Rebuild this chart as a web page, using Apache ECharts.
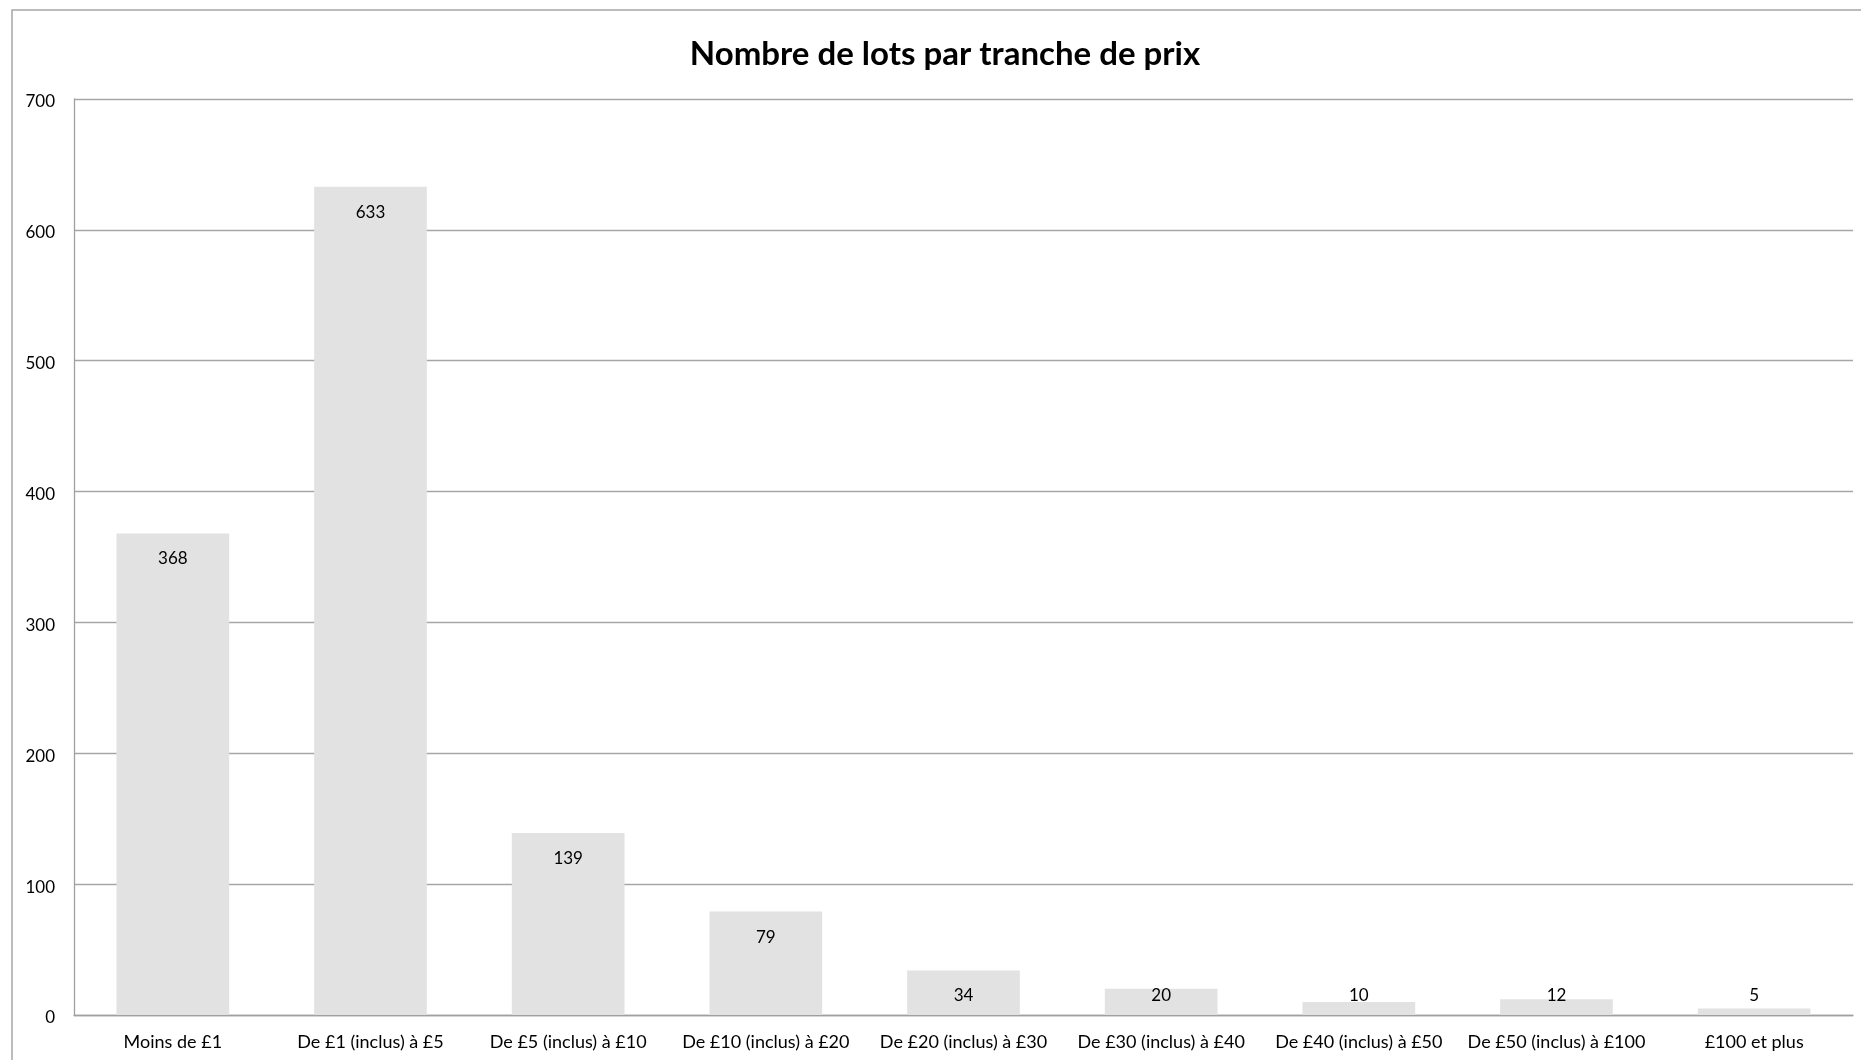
<!DOCTYPE html>
<html><head><meta charset="utf-8">
<script src="https://cdn.jsdelivr.net/npm/echarts@6/dist/echarts.min.js"></script>
<style>html,body{margin:0;padding:0;background:#fff}#c{width:1861px;height:1060px}</style>
</head><body><div id="c"></div>
<script>
const title = 'Nombre de lots par tranche de prix';
const categories = ['Moins de £1','De £1 (inclus) à £5','De £5 (inclus) à £10','De £10 (inclus) à £20','De £20 (inclus) à £30','De £30 (inclus) à £40','De £40 (inclus) à £50','De £50 (inclus) à £100','£100 et plus'];
const values = [368, 633, 139, 79, 34, 20, 10, 12, 5];
const yTicks = {min: 0, max: 700, interval: 100};

const font = 'Lato';
const chart = echarts.init(document.getElementById('c'));
chart.setOption({
  animation: false,
  backgroundColor: '#fff',
  title: {text: title, left: 940, textAlign: 'center', top: 33,
    textStyle: {fontFamily: font, fontWeight: 'bold', fontSize: 33, color: '#000'}},
  graphic: [{type: 'rect', shape: {x: 12, y: 10, width: 1900, height: 1100},
    style: {fill: 'none', stroke: '#a6a6a6', lineWidth: 1.5}, silent: true}],
  grid: {left: 74, right: 8, top: 99, bottom: 45, containLabel: false},
  xAxis: {type: 'category', data: categories,
    axisLine: {lineStyle: {color: '#a0a0a0', width: 1.3}},
    axisTick: {show: false},
    axisLabel: {fontFamily: font, fontSize: 18, color: '#000', margin: 18, interval: 0}},
  yAxis: {type: 'value', min: yTicks.min, max: yTicks.max, interval: yTicks.interval,
    axisLine: {show: true, lineStyle: {color: '#a0a0a0', width: 1.3}},
    axisTick: {show: false},
    splitLine: {lineStyle: {color: '#a6a6a6', width: 1.3}},
    axisLabel: {fontFamily: font, fontSize: 17, color: '#000', margin: 19, verticalAlign: 'top', lineHeight: 6}},
  series: [{type: 'bar', barWidth: '57%',
    itemStyle: {color: '#e2e2e2'},
    data: values.map(v => ({value: v,
      label: v > 40 ? {position: 'insideTop', distance: 17} : {position: 'insideBottom', distance: 11}})),
    label: {show: true, fontFamily: font, fontSize: 17, color: '#000'}}]
});
</script></body></html>
